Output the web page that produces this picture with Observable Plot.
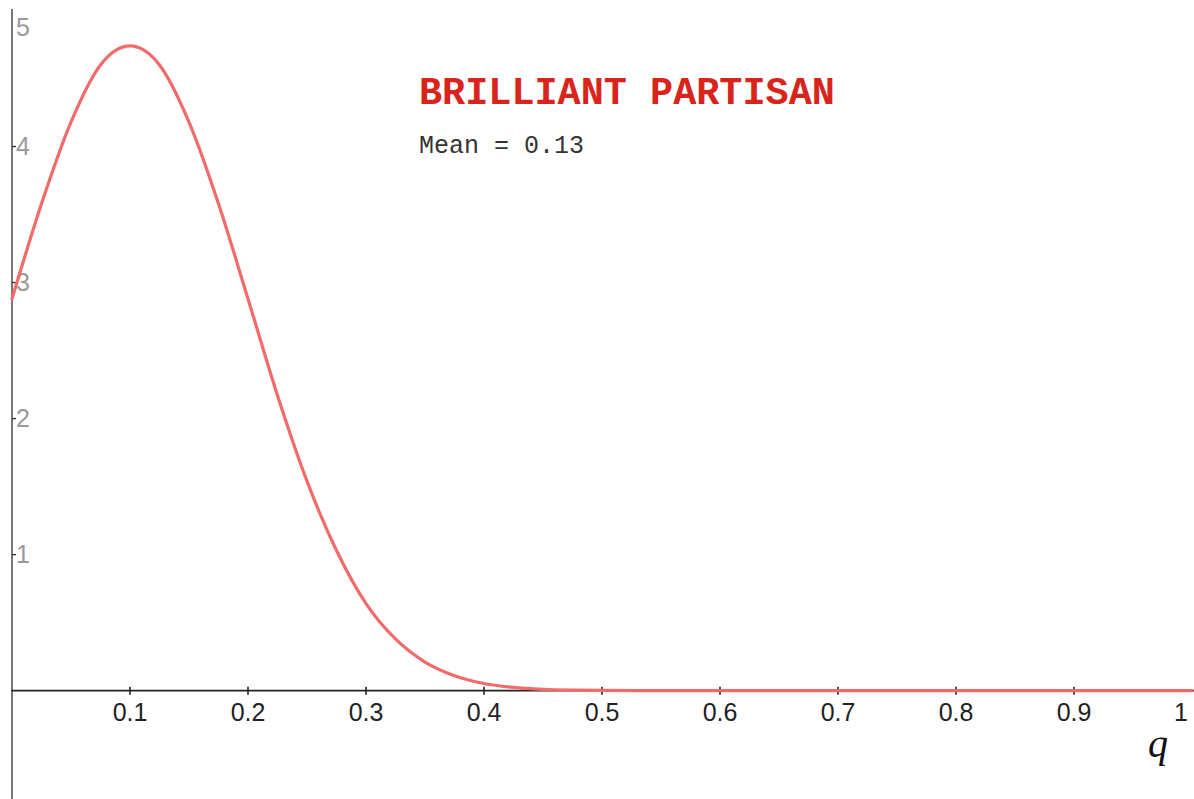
<!DOCTYPE html>
<html>
<head>
<meta charset="utf-8">
<script src="https://cdn.jsdelivr.net/npm/d3@7"></script>
<script src="https://cdn.jsdelivr.net/npm/@observablehq/plot@0.6"></script>
<style>
  html, body { margin: 0; padding: 0; background: #fff; }
  #chart svg { display: block; }
</style>
</head>
<body>
<div id="chart"></div>
<script>
// Data
const qValues = [0, 0.025, 0.05, 0.075, 0.1, 0.125, 0.15, 0.175, 0.2, 0.225, 0.25, 0.275, 0.3, 0.325, 0.35, 0.375, 0.4, 0.425, 0.45, 0.475, 0.5, 0.55, 0.6, 0.7, 0.8, 0.9, 1];
const density = [2.88, 3.58, 4.18, 4.60, 4.74, 4.60, 4.18, 3.58, 2.88, 2.17, 1.54, 1.03, 0.64, 0.38, 0.21, 0.11, 0.053, 0.024, 0.010, 0.004, 0.0015, 0.0002, 0, 0, 0, 0, 0];
const xTicks = [0.1, 0.2, 0.3, 0.4, 0.5, 0.6, 0.7, 0.8, 0.9, 1];
const yTicks = [1, 2, 3, 4, 5];
const titleText = "BRILLIANT PARTISAN";
const meanText = "Mean = 0.13";
const xLabel = "q";

const data = qValues.map((q, i) => ({q, d: density[i]}));

const vTick = {draw(c) { c.moveTo(0, -4); c.lineTo(0, 4); }};
const hTick = {draw(c) { c.moveTo(0, 0); c.lineTo(4, 0); }};
const sans = "Liberation Sans, Arial, sans-serif";

const chart = Plot.plot({
  width: 1194,
  height: 799,
  marginLeft: 11.5,
  marginRight: 2.5,
  marginTop: 10,
  marginBottom: 0,
  x: {domain: [0, 1], axis: null},
  y: {domain: [-0.8, 5], axis: null},
  style: {background: "#fff"},
  marks: [
    Plot.ruleX([0], {stroke: "#555", strokeWidth: 1.6, insetTop: -1}),
    Plot.ruleY([0], {stroke: "#222", strokeWidth: 1.6, insetRight: -3}),
    Plot.dot(xTicks.slice(0, -1), {x: d => d, y: () => 0, symbol: vTick, stroke: "#222", strokeWidth: 1.6, r: 4}),
    Plot.dot(yTicks.slice(0, -1), {x: () => 0, y: d => d, symbol: hTick, stroke: "#333", strokeWidth: 1.4, r: 4}),
    Plot.text(xTicks.slice(0, -1), {x: d => d, y: () => 0, text: d => String(d), dy: 22, fontSize: 25, fill: "#222", fontFamily: sans}),
    Plot.text(xTicks.slice(-1), {x: d => d, y: () => 0, text: d => String(d), dy: 22, dx: -4, textAnchor: "end", fontSize: 25, fill: "#222", fontFamily: sans}),
    Plot.text(yTicks.slice(0, -1), {x: () => 0, y: d => d, text: d => String(d), dx: 4, textAnchor: "start", fontSize: 25, fill: "#999", fontFamily: sans}),
    Plot.text(yTicks.slice(-1), {x: () => 0, y: d => d, text: d => String(d), dx: 4, dy: 17, textAnchor: "start", fontSize: 25, fill: "#999", fontFamily: sans}),
    Plot.line(data, {x: "q", y: "d", stroke: "#f26b6b", strokeWidth: 3.2, curve: "monotone-x"}),
    Plot.text([titleText], {frameAnchor: "top-left", dx: 407, dy: 93, text: d => d, textAnchor: "start", lineAnchor: "bottom", fontSize: 38.5, fontWeight: "bold", fill: "#d8241a", fontFamily: "Liberation Mono, Courier New, monospace"}),
    Plot.text([meanText], {frameAnchor: "top-left", dx: 407, dy: 142, text: d => d, textAnchor: "start", lineAnchor: "bottom", fontSize: 25, fill: "#333", fontFamily: "Liberation Mono, Courier New, monospace"}),
    Plot.text([xLabel], {frameAnchor: "bottom-right", dx: -44, dy: -43, text: d => d, textAnchor: "start", lineAnchor: "bottom", fontSize: 40, fontStyle: "italic", fill: "#111", fontFamily: "Liberation Serif, Times New Roman, serif"})
  ]
});
document.getElementById("chart").appendChild(chart);
</script>
</body>
</html>
